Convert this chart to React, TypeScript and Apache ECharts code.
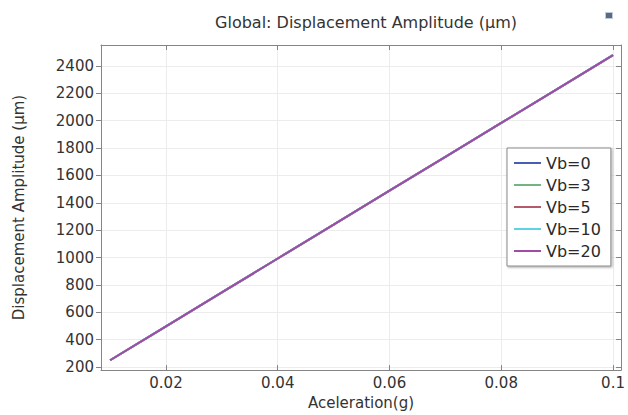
import React, { useEffect, useRef } from "react";
import * as echarts from "echarts";

// Acceleration (g) sample points
const acceleration = [0.01, 0.02, 0.03, 0.04, 0.05, 0.06, 0.07, 0.08, 0.09, 0.1];

// Displacement amplitude (µm) for each bias voltage; the curves coincide
const vb0 = [250, 498, 745, 993, 1240, 1488, 1735, 1983, 2230, 2478];
const vb3 = [250, 498, 745, 993, 1240, 1488, 1735, 1983, 2230, 2478];
const vb5 = [250, 498, 745, 993, 1240, 1488, 1735, 1983, 2230, 2478];
const vb10 = [250, 498, 745, 993, 1240, 1488, 1735, 1983, 2230, 2478];
const vb20 = [250, 498, 745, 993, 1240, 1488, 1735, 1983, 2230, 2478];

const seriesNames = ["Vb=0", "Vb=3", "Vb=5", "Vb=10", "Vb=20"];
const seriesValues = [vb0, vb3, vb5, vb10, vb20];
const seriesColors = ["#4a5cb4", "#72b486", "#b45a68", "#5fd2e6", "#a04ca6"];

const xTicks = [0.02, 0.04, 0.06, 0.08, 0.1];
const yTicks = [200, 400, 600, 800, 1000, 1200, 1400, 1600, 1800, 2000, 2200, 2400];

const X_MIN = 0.00837;
const X_MAX = 0.10143;
const Y_MIN = 178;
const Y_MAX = 2552;

const FONT = "DejaVu Sans, sans-serif";
const FRAME = "#858585";
const GRID = "#ececec";

export default function App() {
  const ref = useRef<HTMLDivElement>(null);

  useEffect(() => {
    if (!ref.current) return;
    const chart = echarts.init(ref.current, undefined, { renderer: "svg" });

    const frameAxis = {
      axisLine: { show: true, lineStyle: { color: FRAME, width: 1 } },
      axisLabel: { show: false },
      splitLine: { show: false },
    };

    chart.setOption({
      animation: false,
      backgroundColor: "#ffffff",
      textStyle: { fontFamily: FONT },
      title: {
        text: "Global: Displacement Amplitude (µm)",
        left: 361,
        top: 9,
        textAlign: "center",
        textStyle: { fontFamily: FONT, fontSize: 16, fontWeight: "normal", color: "#333" },
      },
      grid: { left: 101, right: 7, top: 45, bottom: 42, containLabel: false },
      legend: {
        orient: "vertical",
        left: 507,
        top: 148,
        padding: [7, 10, 7, 6],
        itemGap: 6,
        itemWidth: 27,
        itemHeight: 14,
        backgroundColor: "#ffffff",
        borderColor: "#8a8a8a",
        borderWidth: 1,
        shadowColor: "rgba(0,0,0,0.35)",
        shadowBlur: 2,
        shadowOffsetX: 1,
        shadowOffsetY: 1,
        itemStyle: { opacity: 0 },
        lineStyle: { width: 2 },
        textStyle: { fontFamily: FONT, fontSize: 16, color: "#2a2a2a" },
        data: seriesNames,
      },
      xAxis: [
        {
          type: "value",
          position: "bottom",
          min: X_MIN,
          max: X_MAX,
          name: "Aceleration(g)",
          nameLocation: "middle",
          nameGap: 24,
          nameTextStyle: { fontFamily: FONT, fontSize: 15, color: "#333" },
          axisLine: { show: true, lineStyle: { color: FRAME, width: 1 } },
          axisTick: { show: true, inside: true, length: 5, customValues: xTicks, lineStyle: { color: FRAME } },
          axisLabel: {
            show: true,
            customValues: xTicks,
            margin: 5,
            fontFamily: FONT,
            fontSize: 15,
            color: "#333",
            formatter: (v: number) => String(Number(v.toFixed(4))),
          },
          splitLine: { show: true, lineStyle: { color: GRID, width: 1 } },
        },
        {
          type: "value",
          position: "top",
          min: X_MIN,
          max: X_MAX,
          ...frameAxis,
          axisTick: { show: true, inside: true, length: 5, customValues: xTicks, lineStyle: { color: FRAME } },
        },
      ],
      yAxis: [
        {
          type: "value",
          position: "left",
          min: Y_MIN,
          max: Y_MAX,
          name: "Displacement Amplitude (µm)",
          nameLocation: "middle",
          nameGap: 75,
          nameTextStyle: { fontFamily: FONT, fontSize: 15, color: "#333" },
          axisLine: { show: true, lineStyle: { color: FRAME, width: 1 } },
          axisTick: { show: true, inside: false, length: 5, customValues: yTicks, lineStyle: { color: FRAME } },
          axisLabel: {
            show: true,
            customValues: yTicks,
            margin: 7,
            fontFamily: FONT,
            fontSize: 15,
            color: "#333",
            formatter: (v: number) => String(Math.round(v)),
          },
          splitLine: { show: true, lineStyle: { color: GRID, width: 1 } },
        },
        {
          type: "value",
          position: "right",
          min: Y_MIN,
          max: Y_MAX,
          ...frameAxis,
          axisTick: { show: true, inside: true, length: 5, customValues: yTicks, lineStyle: { color: FRAME } },
        },
      ],
      graphic: [
        {
          type: "rect",
          left: 605,
          top: 12,
          shape: { width: 7, height: 6 },
          style: { fill: "#5a6a80", stroke: "#c0cad8", lineWidth: 1 },
        },
      ],
      series: seriesNames.map((name, i) => ({
        name,
        type: "line",
        xAxisIndex: 0,
        yAxisIndex: 0,
        symbol: "none",
        showSymbol: false,
        color: seriesColors[i],
        lineStyle: { color: seriesColors[i], width: 2 },
        data: acceleration.map((a, k) => [a, seriesValues[i][k]]),
        z: 2 + i,
      })),
    });

    return () => chart.dispose();
  }, []);

  return (
    <div
      ref={ref}
      style={{ position: "fixed", left: 0, top: 0, width: 628, height: 415 }}
    />
  );
}
